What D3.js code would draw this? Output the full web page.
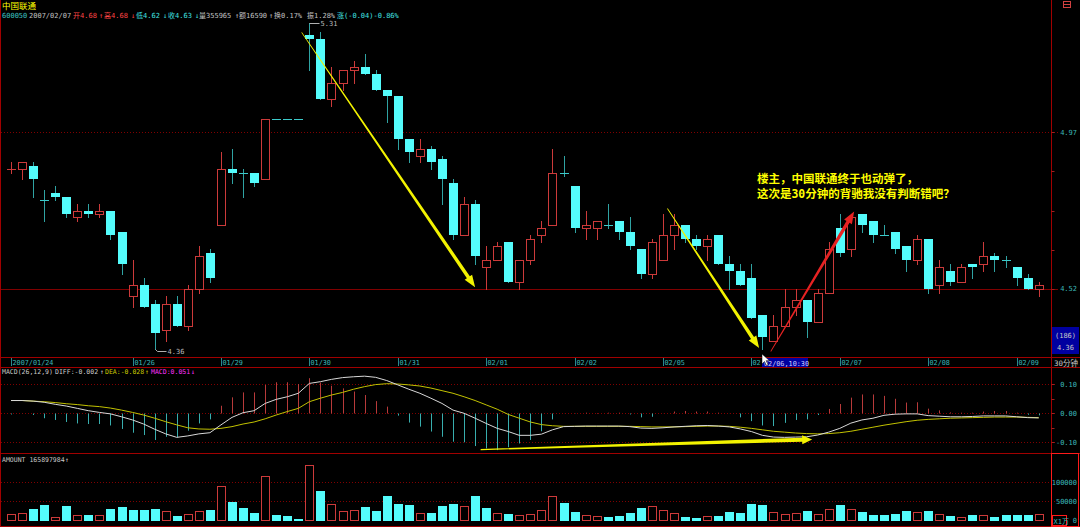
<!DOCTYPE html>
<html><head><meta charset="utf-8">
<script src="https://cdn.jsdelivr.net/npm/d3@7"></script>
<style>
html,body{margin:0;padding:0;background:#000;overflow:hidden}
svg{display:block}
text{font-family:"DejaVu Sans Mono","Liberation Mono","Noto Sans CJK SC",monospace}
</style></head><body>
<svg id="c" width="1080" height="527"></svg>
<script>
// ---------------- data ----------------
const opens  = [4.86,4.86,4.87,4.77,4.79,4.78,4.72,4.74,4.73,4.74, 4.68,4.50,4.53,4.48,4.41,4.48,4.42,4.52,4.62,4.70, 4.86,4.85,4.85,4.83,5.01,5.01,5.01,5.27,5.26,5.07, 5.12,5.16,5.17,5.15,5.10,5.08,4.95,4.90,4.92,4.89, 4.82,4.67,4.76,4.58,4.60,4.65,4.54,4.60,4.67,4.70, 4.85,4.81,4.69,4.69,4.70,4.71,4.68,4.63,4.56,4.60, 4.67,4.70,4.66,4.64,4.67,4.59,4.57,4.55,4.45,4.38, 4.42,4.47,4.49,4.43,4.51,4.69,4.63,4.73,4.71,4.67, 4.68,4.64,4.60,4.66,4.53,4.57,4.54,4.59,4.59,4.61, 4.60,4.58,4.55,4.52];
const highs  = [4.88,4.88,4.88,4.80,4.81,4.78,4.76,4.76,4.76,4.74, 4.68,4.60,4.55,4.49,4.50,4.50,4.53,4.64,4.63,4.91, 4.92,4.86,4.85,5.01,5.01,5.01,5.01,5.31,5.28,5.17, 5.16,5.19,5.21,5.16,5.10,5.08,4.95,4.95,4.93,4.90, 4.83,4.78,4.77,4.64,4.65,4.65,4.60,4.67,4.71,4.92, 4.90,4.81,4.74,4.71,4.76,4.71,4.72,4.63,4.66,4.73, 4.73,4.70,4.67,4.67,4.67,4.61,4.59,4.59,4.45,4.45, 4.52,4.52,4.49,4.52,4.65,4.73,4.73,4.73,4.71,4.70, 4.68,4.64,4.67,4.66,4.60,4.59,4.59,4.59,4.65,4.62, 4.61,4.58,4.56,4.54];
const lows   = [4.85,4.83,4.78,4.71,4.77,4.72,4.71,4.72,4.72,4.66, 4.56,4.47,4.47,4.36,4.38,4.42,4.41,4.51,4.54,4.70, 4.82,4.78,4.81,4.83,5.01,5.01,5.01,5.16,5.07,5.05, 5.10,5.12,5.15,5.10,5.00,4.92,4.88,4.88,4.86,4.76, 4.66,4.67,4.59,4.52,4.60,4.54,4.52,4.59,4.65,4.70, 4.84,4.68,4.66,4.66,4.69,4.66,4.63,4.55,4.55,4.60, 4.63,4.65,4.63,4.60,4.59,4.52,4.53,4.44,4.36,4.38, 4.42,4.45,4.39,4.43,4.51,4.61,4.61,4.68,4.65,4.67, 4.62,4.57,4.59,4.51,4.51,4.53,4.54,4.55,4.57,4.57, 4.58,4.53,4.52,4.50];
const closes = [4.86,4.88,4.83,4.77,4.78,4.73,4.74,4.73,4.74,4.67, 4.59,4.53,4.47,4.40,4.48,4.42,4.52,4.61,4.55,4.86, 4.85,4.85,4.82,5.01,5.01,5.01,5.01,5.26,5.07,5.12, 5.16,5.17,5.15,5.10,5.08,4.95,4.91,4.92,4.88,4.83, 4.67,4.76,4.61,4.60,4.64,4.54,4.60,4.66,4.69,4.85, 4.85,4.69,4.70,4.71,4.70,4.68,4.64,4.56,4.65,4.67, 4.70,4.66,4.64,4.66,4.59,4.57,4.53,4.44,4.39,4.42, 4.47,4.49,4.43,4.51,4.63,4.62,4.72,4.70,4.67,4.67, 4.63,4.60,4.66,4.52,4.58,4.54,4.58,4.58,4.61,4.60, 4.60,4.55,4.52,4.53];
const amounts = [15500,19000,29300,38800,8600,37000,12000,12000,13000,28400, 33600,26700,25900,29300,23300,10300,15500,22400,25900,90500, 47400,31000,18100,116400,12000,10300,3400,144800,77600,42200, 23300,25900,34500,23300,62900,42200,38800,18100,19000,36200, 42200,36200,62900,31900,18100,15500,13000,15500,25900,62100, 45700,21600,12900,10300,8600,10300,18100,31000,36200,25900, 19000,8600,5200,10300,10300,20700,18100,41400,39700,20700, 15500,18100,23300,15500,28400,39700,28400,20700,12900,12900, 16400,22400,20700,25000,15500,10300,6900,12900,12900,8600, 12900,12100,12100,14700];
const diffs = [0.043,0.043,0.041,0.037,0.030,0.024,0.016,0.008,0.002,-0.003, -0.013,-0.024,-0.038,-0.056,-0.072,-0.084,-0.079,-0.072,-0.068,-0.041, -0.015,0.001,0.008,0.033,0.047,0.056,0.068,0.102,0.108,0.116, 0.122,0.125,0.127,0.123,0.112,0.097,0.082,0.068,0.051,0.033, 0.010,-0.001,-0.018,-0.036,-0.053,-0.064,-0.077,-0.077,-0.073,-0.058, -0.047,-0.046,-0.045,-0.045,-0.045,-0.045,-0.047,-0.052,-0.053,-0.051, -0.048,-0.046,-0.044,-0.043,-0.045,-0.048,-0.055,-0.064,-0.077,-0.083, -0.084,-0.083,-0.082,-0.076,-0.066,-0.053,-0.035,-0.024,-0.018,-0.008, -0.004,-0.003,-0.003,-0.009,-0.011,-0.013,-0.013,-0.012,-0.010,-0.010, -0.010,-0.013,-0.016,-0.017];
const deas = [0.043,0.043,0.041,0.039,0.036,0.032,0.029,0.025,0.022,0.017, 0.010,0.002,-0.007,-0.018,-0.030,-0.041,-0.051,-0.055,-0.056,-0.053, -0.047,-0.038,-0.031,-0.020,-0.007,0.005,0.016,0.039,0.051,0.062, 0.071,0.082,0.091,0.098,0.101,0.100,0.097,0.093,0.086,0.077, 0.068,0.056,0.043,0.028,0.013,-0.005,-0.018,-0.031,-0.040,-0.044, -0.046,-0.046,-0.046,-0.046,-0.046,-0.046,-0.046,-0.047,-0.048,-0.048, -0.048,-0.047,-0.046,-0.045,-0.045,-0.046,-0.049,-0.053,-0.058,-0.063, -0.066,-0.069,-0.071,-0.072,-0.071,-0.068,-0.063,-0.056,-0.049,-0.042, -0.036,-0.030,-0.025,-0.022,-0.020,-0.018,-0.017,-0.016,-0.015,-0.014, -0.014,-0.014,-0.015,-0.016];
const macds = [-0.005,-0.002,-0.007,-0.018,-0.024,-0.031,-0.036,-0.038,-0.038,-0.043, -0.055,-0.068,-0.076,-0.093,-0.082,-0.084,-0.061,-0.036,-0.022,0.025, 0.054,0.071,0.071,0.097,0.106,0.106,0.100,0.120,0.105,0.094, 0.085,0.074,0.062,0.041,0.022,-0.009,-0.033,-0.047,-0.064,-0.082, -0.099,-0.101,-0.114,-0.122,-0.128,-0.118,-0.105,-0.093,-0.063,-0.022, -0.002,-0.001,0.001,0.000,0.001,0.001,-0.005,-0.015,-0.013,-0.002, 0.005,0.007,0.005,0.005,0.001,-0.002,-0.015,-0.028,-0.043,-0.045, -0.034,-0.024,-0.022,-0.007,0.014,0.031,0.053,0.064,0.064,0.059, 0.049,0.036,0.037,0.015,0.009,0.002,0.001,0.001,0.005,0.007, 0.007,0.001,-0.006,-0.008];
const dateTickIdx = [0,11,19,27,35,43,51,59,67,75,83,91];
const dateLabels = ["2007/01/24","01/26","01/29","01/30","01/31","02/01","02/02","02/05","02/06","02/07","02/08","02/09"];
const priceTicks = [4.97, 4.52];
const prevClose = 4.52;
const macdTicks = [0.10, 0.00, -0.10];
const macdTickLabels = ["0.10","0.00","-0.10"];
const amountTicks = [100000, 50000, 0];
const amountTickLabels = ["100000","50000","0"];
const cursorIdx = 68, cursorLabel = "02/06,10:30";
// annotation arrows: [index, value] -> [index, value]
const priceArrows = [
  {from:[26.3,5.28], to:[42.0,4.525], color:"#f2f200"},
  {from:[59.4,4.746], to:[67.7,4.361], color:"#f2f200"},
  {from:[68.75,4.352], to:[76.3,4.737], color:"#e62222"}
];
const macdArrows = [{from:[42.5,-0.126], to:[72.5,-0.091], color:"#f2f200"}];
const noteLines = ["楼主，中国联通终于也动弹了，","这次是30分钟的背驰我没有判断错吧？"];
const noteAnchor = [67.5, 4.82];

// ---------------- setup ----------------
const svg = d3.select("#c");
const N = closes.length;
const RED = "#cc3a3a", CYAN = "#54fcfc", TEAL = "#2fa3a3", LBL = "#3cb8b8", FRAME = "#a00000", GRID = "#800000";
svg.append("rect").attr("width",1080).attr("height",527).attr("fill","#000");

const x = d3.scaleLinear().domain([0, N-1]).range([11, 1038.7]);
const yP = d3.scaleLog().domain([4.36, 5.31]).range([348.5, 23]);
const yM = d3.scaleLinear().domain([-0.1, 0.1]).range([442, 384]);
const yA = d3.scaleLinear().domain([0, 100000]).range([520, 482]);
const AX = 1051.5;

const defs = svg.append("defs");
defs.append("clipPath").attr("id","cpMain").append("rect").attr("x",1).attr("y",0).attr("width",1050).attr("height",357);
defs.append("clipPath").attr("id","cpMacd").append("rect").attr("x",1).attr("y",368).attr("width",1050).attr("height",85);
defs.append("clipPath").attr("id","cpAmt").append("rect").attr("x",1).attr("y",454).attr("width",1050).attr("height",72);

// ---------------- grid ----------------
const grid = svg.append("g");
priceTicks.forEach(v => {
  const yy = Math.round(yP(v)) + 0.5;
  grid.append("line").attr("x1",1).attr("x2",1058).attr("y1",yy).attr("y2",yy)
    .attr("stroke",GRID).attr("stroke-width",1)
    .attr("stroke-dasharray", v === prevClose ? null : "1,2");
});
macdTicks.forEach(v => {
  const yy = Math.round(yM(v)) + 0.5;
  grid.append("line").attr("x1",1).attr("x2",1056).attr("y1",yy).attr("y2",yy)
    .attr("stroke",GRID).attr("stroke-dasharray","1,2");
});
amountTicks.filter(v=>v>0).forEach(v => {
  const yy = Math.round(yA(v)) + 0.5;
  grid.append("line").attr("x1",1).attr("x2",1056).attr("y1",yy).attr("y2",yy)
    .attr("stroke",GRID).attr("stroke-dasharray","1,2");
});

// ---------------- candles ----------------
const gC = svg.append("g").attr("clip-path","url(#cpMain)");
const isUp = i => closes[i] > opens[i] || (closes[i] === opens[i] && (i === 0 || closes[i] > closes[i-1]));
for (let i = 0; i < N; i++) {
  const cx = Math.round(x(i)) + 0.5;
  const yo = Math.round(yP(opens[i])), yc = Math.round(yP(closes[i]));
  const yh = Math.round(yP(highs[i])), yl = Math.round(yP(lows[i]));
  if (opens[i] === closes[i]) {
    const col = isUp(i) ? RED : TEAL;
    if (yl > yh) gC.append("line").attr("x1",cx).attr("x2",cx).attr("y1",yh).attr("y2",yl+1).attr("stroke",col);
    gC.append("line").attr("x1",cx-4.5).attr("x2",cx+4.5).attr("y1",yc+0.5).attr("y2",yc+0.5).attr("stroke", col === RED ? RED : "#3ccaca");
  } else if (closes[i] > opens[i]) {
    const top = yc + 0.5, bot = yo + 0.5;
    gC.append("line").attr("x1",cx).attr("x2",cx).attr("y1",yh).attr("y2",top).attr("stroke",RED);
    gC.append("line").attr("x1",cx).attr("x2",cx).attr("y1",bot).attr("y2",yl+1).attr("stroke",RED);
    gC.append("rect").attr("x",cx-4).attr("y",top).attr("width",8).attr("height",bot-top)
      .attr("fill","#000").attr("stroke",RED);
  } else {
    gC.append("line").attr("x1",cx).attr("x2",cx).attr("y1",yh).attr("y2",yl+1).attr("stroke",TEAL);
    gC.append("rect").attr("x",cx-4.5).attr("y",yo).attr("width",9).attr("height",Math.max(1,yc-yo))
      .attr("fill",CYAN);
  }
}
// extremes labels
const iMax = d3.maxIndex(highs), iMin = d3.minIndex(lows);
{
  const cx = Math.round(x(iMax)) + 0.5, yy = Math.round(yP(highs[iMax])) + 0.5;
  gC.append("path").attr("d",`M${cx},${yy}H${cx+10}`).attr("stroke","#b0b0b0").attr("fill","none");
  gC.append("text").attr("x",cx+11).attr("y",yy+2.5).attr("font-size",7).attr("fill","#b8b8b8").text(highs[iMax].toFixed(2));
  const mx = Math.round(x(iMin)) + 0.5, my = Math.round(yP(lows[iMin])) + 0.5;
  gC.append("path").attr("d",`M${mx},${my}L${mx+2},${my+2}H${mx+11}`).attr("stroke","#b0b0b0").attr("fill","none");
  svg.append("text").attr("x",mx+12).attr("y",my+4.5).attr("font-size",7).attr("fill","#b8b8b8").text(lows[iMin].toFixed(2));
}

// ---------------- arrows ----------------
function arrow(g, x0, y0, x1, y1, w0, w1, hl, hw, color) {
  const dx = x1-x0, dy = y1-y0, L = Math.hypot(dx,dy);
  const ux = dx/L, uy = dy/L, nx = -uy, ny = ux;
  const bx = x1 - ux*hl, by = y1 - uy*hl;
  const pts = [
    [x0+nx*w0/2, y0+ny*w0/2], [bx+nx*w1/2, by+ny*w1/2], [bx+nx*hw/2, by+ny*hw/2],
    [x1, y1], [bx-nx*hw/2, by-ny*hw/2], [bx-nx*w1/2, by-ny*w1/2], [x0-nx*w0/2, y0-ny*w0/2]
  ];
  g.append("path").attr("d", "M" + pts.map(p=>p.join(",")).join("L") + "Z").attr("fill", color);
}
const gA = svg.append("g");
priceArrows.forEach(a => arrow(gA, x(a.from[0]), yP(a.from[1]), x(a.to[0]), yP(a.to[1]), 0.8, 3.6, 12, 9, a.color));

// note text
noteLines.forEach((t,k) => {
  svg.append("text").attr("x", x(noteAnchor[0])).attr("y", yP(noteAnchor[1]) + k*15.5)
    .attr("font-family","'Noto Sans CJK SC',sans-serif").attr("font-weight","bold")
    .attr("font-size",11.5).attr("fill","#ffff00").text(t);
});

// ---------------- MACD ----------------
const gM = svg.append("g").attr("clip-path","url(#cpMacd)");
const y0M = Math.round(yM(0)) + 0.5;
macds.forEach((v,i) => {
  const cx = Math.round(x(i)) + 0.5;
  gM.append("line").attr("x1",cx).attr("x2",cx).attr("y1",y0M).attr("y2",yM(v))
    .attr("stroke", v >= 0 ? "#b83a3a" : "#38aeae");
});
const lineGen = d3.line().x((d,i)=>x(i)).y(d=>yM(d));
gM.append("path").attr("d", lineGen(deas)).attr("fill","none").attr("stroke","#c2c200").attr("stroke-width",1);
gM.append("path").attr("d", lineGen(diffs)).attr("fill","none").attr("stroke","#d8d8d8").attr("stroke-width",1);
macdArrows.forEach(a => arrow(svg, x(a.from[0]), yM(a.from[1]), x(a.to[0]), yM(a.to[1]), 1.2, 4, 10, 9, a.color));

// ---------------- amount ----------------
const gV = svg.append("g").attr("clip-path","url(#cpAmt)");
const yBase = Math.round(yA(0)) + 0.5;
amounts.forEach((v,i) => {
  const cx = Math.round(x(i)) + 0.5;
  const up = i === 0 || closes[i] > closes[i-1];
  const top = Math.round(yA(v)) + 0.5;
  if (up) {
    gV.append("rect").attr("x",cx-4).attr("y",top).attr("width",8).attr("height",Math.max(1,yBase-top))
      .attr("fill","#000").attr("stroke",RED);
  } else {
    gV.append("rect").attr("x",cx-4.5).attr("y",top-0.5).attr("width",9).attr("height",Math.max(1,yBase-top+1))
      .attr("fill",CYAN);
  }
});

// ---------------- frames ----------------
const fr = svg.append("g").attr("stroke",FRAME).attr("stroke-width",1);
[357.5, 367.5, 453.5, 526.5].forEach(yy => fr.append("line").attr("x1",0).attr("x2",1080).attr("y1",yy).attr("y2",yy));
fr.append("line").attr("x1",0.5).attr("x2",0.5).attr("y1",0).attr("y2",527);
fr.append("line").attr("x1",AX).attr("x2",AX).attr("y1",0).attr("y2",527);
svg.append("rect").attr("x",1051.5).attr("y",453.5).attr("width",27).attr("height",73).attr("fill","none").attr("stroke","#ff1a1a");

// right axis ticks & labels
const tk = svg.append("g").attr("stroke","#a02020");
const p0 = yP(priceTicks[1]), p1 = yP(priceTicks[0]);
d3.range(5).forEach(k => { const yy = Math.round(p0 + (p1-p0)*k/4)+0.5; tk.append("line").attr("x1",AX).attr("x2",AX+3).attr("y1",yy).attr("y2",yy); });
d3.range(5).forEach(k => { const yy = Math.round(yM(0.1 - k*0.05))+0.5; tk.append("line").attr("x1",AX).attr("x2",AX+3).attr("y1",yy).attr("y2",yy); });
const lab = (t, xx, yy, col, anchor, fs) => svg.append("text").attr("x",xx).attr("y",yy).attr("fill",col)
  .attr("font-size",fs||7).attr("text-anchor",anchor||"start").text(t);
priceTicks.forEach(v => lab(v.toFixed(2), 1077, yP(v)+2.5, LBL, "end"));
macdTicks.forEach((v,k) => lab(macdTickLabels[k], 1077, yM(v)+2.5, LBL, "end"));
amountTicks.forEach((v,k) => lab(amountTickLabels[k], 1077, yA(v)+2.5, LBL, "end"));
svg.append("rect").attr("x",1052.5).attr("y",515.5).attr("width",14).attr("height",10).attr("fill","none").attr("stroke","#ff1a1a");
lab("X1万", 1053.5, 523.5, LBL, "start", 7);

// (186) box
svg.append("rect").attr("x",1052).attr("y",327).attr("width",27).attr("height",27).attr("fill","#0000a0");
lab("(186)", 1065.5, 337.5, "#c8c8c8", "middle");
lab(lows[iMin].toFixed(2), 1065.5, 350, "#c8c8c8", "middle");
lab("30分钟", 1054, 365.5, "#c8c8c8", "start", 7.5);

// date labels (a label hidden behind the cursor box is cut short)
const boxX = Math.round(x(cursorIdx));
dateTickIdx.forEach((idx,k) => {
  const cx = Math.round(x(idx)) + 0.5;
  svg.append("line").attr("x1",cx).attr("x2",cx).attr("y1",358).attr("y2",366).attr("stroke","#2a8a8a");
  const tx = cx + 1;
  const t = lab(dateLabels[k], tx, 365, LBL, "start", 6.8);
  if (cx < boxX && tx + t.node().getComputedTextLength() > boxX + 0.5) {
    let s = dateLabels[k];
    while (s.length && tx + t.node().getComputedTextLength() > boxX + 0.5) { s = s.slice(0,-1); t.text(s); }
  }
});
// cursor label
{
  svg.append("rect").attr("x",boxX).attr("y",358).attr("width",46).attr("height",9).attr("fill","#0000a0");
  lab(cursorLabel, boxX+2, 365.5, "#d0d0ff", "start", 6.8);
  const px = boxX, py = 354;
  svg.append("path").attr("d",`M${px},${py}v10l2.5,-2.5l2,4l1.6,-0.8l-2,-4h3.5z`).attr("fill","#fff").attr("stroke","#000").attr("stroke-width",0.5);
}

// header
lab("中国联通", 2, 8.5, "#ffff00", "start", 8.5);
const hdr = [[2,"600050","#3cc0c0"],[29,"2007/02/07","#c0c0c0"],[73,"开4.68","#ff4646"],[99,"↑","#ff4646"],[104,"高4.68","#ff4646"],[131,"↓","#ff4646"],
 [136,"低4.62","#40e0e0"],[163,"↓","#40e0e0"],[168,"收4.63","#40e0e0"],[195,"↓","#40e0e0"],[199,"量355965","#c0c0c0"],[235,"↑","#c0c0c0"],
 [239,"额16590","#c0c0c0"],[269,"↑","#c0c0c0"],[274,"换0.17%","#c0c0c0"],[307,"振1.28%","#c0c0c0"],[337,"涨(-0.04)-0.86%","#40e0e0"]];
hdr.forEach(h => lab(h[1], h[0], 18, h[2], "start", 7));
const mh = [[2,"MACD(26,12,9)","#c8c8c8"],[55,"DIFF:-0.002","#c8c8c8"],[100,"↑","#c8c8c8"],[105,"DEA:-0.028","#c8c800"],[145,"↑","#c8c800"],[151,"MACD:0.051","#ff30ff"],[191,"↓","#ff30ff"]];
mh.forEach(h => lab(h[1], h[0], 374, h[2], "start", 6.5));
lab("AMOUNT 165897984", 2, 462, "#c8c8c8", "start", 6.5);
lab("↑", 65, 462, "#c8c8c8", "start", 6.5);
// top-right icon
svg.append("rect").attr("x",1063.5).attr("y",1.5).attr("width",7).attr("height",6).attr("fill","none").attr("stroke","#d04040");
svg.append("line").attr("x1",1064).attr("x2",1070).attr("y1",4.5).attr("y2",4.5).attr("stroke","#d04040");
</script></body></html>
